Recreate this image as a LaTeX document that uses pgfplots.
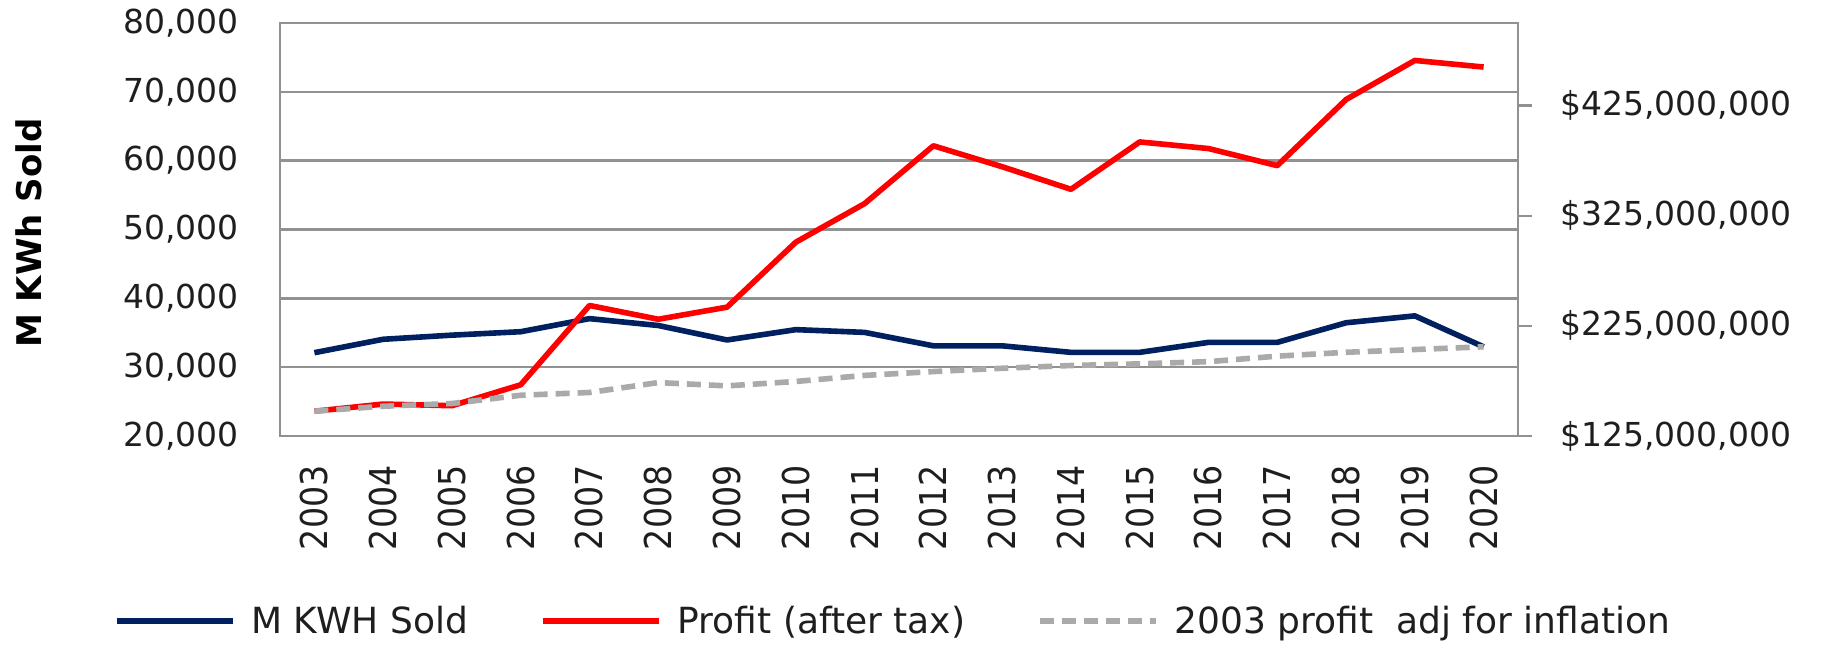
\documentclass[border=0pt]{standalone}
\usepackage{fontspec}
\setmainfont{DejaVu Sans}
\newfontfamily\condfont{DejaVu Sans Condensed}
\usepackage{pgfplots}
\pgfplotsset{compat=1.18}
\usepackage{pgfplotstable}
\definecolor{navy}{RGB}{0,32,96}
\definecolor{gridgray}{RGB}{145,145,145}
\definecolor{dashgray}{RGB}{170,170,170}
\definecolor{txt}{RGB}{30,30,30}

\pgfplotstableread{
idx year kwh profit adj
0  2003 32100 147.5 147.5
1  2004 34050 154.0 152.0
2  2005 34650 152.5 154.5
3  2006 35150 171.5 162.0
4  2007 37050 243.5 164.5
5  2008 36050 231.0 173.5
6  2009 33950 242.0 170.5
7  2010 35450 301.0 174.5
8  2011 35050 336.0 180.0
9  2012 33100 388.5 183.5
10 2013 33100 369.5 186.5
11 2014 32150 349.0 189.0
12 2015 32150 392.0 190.5
13 2016 33600 386.0 192.5
14 2017 33600 370.5 197.5
15 2018 36450 430.5 201.0
16 2019 37450 466.0 203.5
17 2020 32950 460.0 206.0
}\data

\begin{document}
\begin{tikzpicture}
\useasboundingbox (0,0) rectangle (914pt,323pt);
\begin{axis}[
  at={(140pt,105pt)}, anchor=south west,
  scale only axis, width=619pt, height=206.5pt,
  xmin=-0.5, xmax=17.5, ymin=20000, ymax=80000,
  scaled y ticks=false,
  xtick={0,...,17},
  xticklabels={2003,2004,2005,2006,2007,2008,2009,2010,2011,2012,2013,2014,2015,2016,2017,2018,2019,2020},
  ytick={20000,30000,40000,50000,60000,70000,80000},
  yticklabels={{20,000},{30,000},{40,000},{50,000},{60,000},{70,000},{80,000}},
  major tick length=0pt,
  ymajorgrids, grid style={gridgray, line width=1.2pt},
  axis line style={gridgray, line width=1.2pt},
  xticklabel style={rotate=90, anchor=east, inner sep=0pt, font=\condfont\fontsize{18.5}{20}\selectfont, text=txt},
  xticklabel shift=14.5pt,
  yticklabel style={anchor=east, inner sep=0pt, font=\fontsize{16.5}{18}\selectfont, text=txt},
  yticklabel shift=20.5pt,
  ylabel={M KWh Sold},
  ylabel style={at={(axis description cs:-0.2027,0.4915)}, anchor=center, font=\bfseries\fontsize{17}{19}\selectfont, text=black},
]
\addplot[navy, line width=2.8pt, line join=round] table[x=idx, y=kwh]{\data};
\end{axis}
\begin{axis}[
  at={(140pt,105pt)}, anchor=south west,
  scale only axis, width=619pt, height=206.5pt,
  xmin=-0.5, xmax=17.5, ymin=125, ymax=500,
  scaled y ticks=false,
  axis x line=none, axis y line*=right,
  y axis line style={-, gridgray, line width=1.2pt},
  ytick={125,225,325,425},
  yticklabels={{\$125,000,000},{\$225,000,000},{\$325,000,000},{\$425,000,000}},
  tick align=outside, major tick length=7pt,
  tick style={gridgray, line width=1.2pt},
  yticklabel style={anchor=west, inner sep=0pt, font=\fontsize{16.5}{18}\selectfont, text=txt},
  yticklabel shift=14pt,
  legend columns=3,
  legend style={at={(0.496,-0.448)}, anchor=center, draw=none, fill=none,
    font=\fontsize{18}{20}\selectfont, text=txt,
    /tikz/every odd column/.append style={column sep=6pt},
    /tikz/every even column/.append style={column sep=34pt}},
  legend image code/.code={\draw[#1] (0pt,0pt) -- (58pt,0pt);},
]
\addlegendimage{navy, line width=2.8pt}
\addlegendentry{M KWH Sold}
\addplot[red, line width=2.8pt, line join=round] table[x=idx, y=profit]{\data};
\addlegendentry{Profit (after tax)}
\addplot[dashgray, line width=2.8pt, dash pattern=on 7pt off 4pt] table[x=idx, y=adj]{\data};
\addlegendentry{2003 profit\ \ adj for inflation}
\end{axis}
\end{tikzpicture}
\end{document}
